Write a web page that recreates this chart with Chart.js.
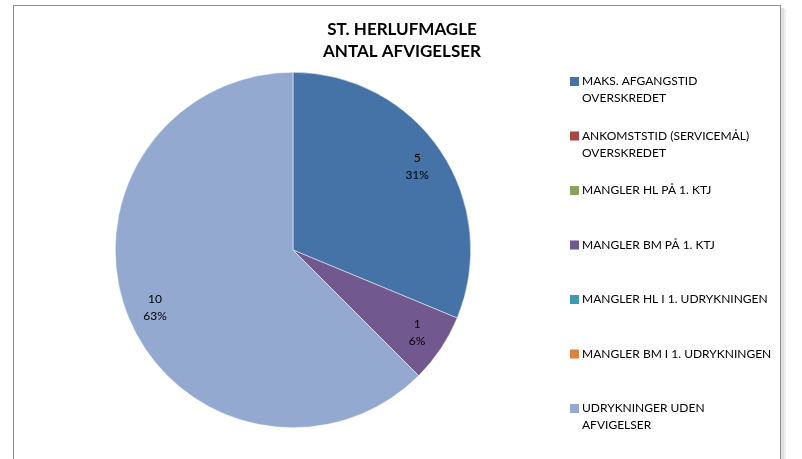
<!DOCTYPE html>
<html>
<head>
<meta charset="utf-8">
<script src="https://cdn.jsdelivr.net/npm/chart.js@4"></script>
<style>
html,body{margin:0;padding:0;background:#fff;}
#wrap{width:802px;height:459px;position:relative;}
</style>
</head>
<body>
<div id="wrap"><canvas id="c" width="802" height="459"></canvas></div>
<script>
const titleLines = ["ST. HERLUFMAGLE", "ANTAL AFVIGELSER"];
const categories = [
  ["MAKS. AFGANGSTID", "OVERSKREDET"],
  ["ANKOMSTSTID (SERVICEMÅL)", "OVERSKREDET"],
  ["MANGLER HL PÅ 1. KTJ"],
  ["MANGLER BM PÅ 1. KTJ"],
  ["MANGLER HL I 1. UDRYKNINGEN"],
  ["MANGLER BM I 1. UDRYKNINGEN"],
  ["UDRYKNINGER UDEN", "AFVIGELSER"]
];
const values = [5, 0, 0, 1, 0, 0, 10];
const colors = ["#4572A7", "#AA4643", "#89A54E", "#71588F", "#4198AF", "#DB843D", "#93A9CF"];

const FONT = "Lato, 'Open Sans', sans-serif";

const framePlugin = {
  id: 'frame',
  beforeDraw(chart) {
    const ctx = chart.ctx;
    ctx.save();
    ctx.fillStyle = '#fff';
    ctx.fillRect(0, 0, chart.width, chart.height);
    // shadow on right
    ctx.fillStyle = 'rgba(0,0,0,0.12)';
    ctx.fillRect(781, 8, 3, chart.height);
    ctx.fillStyle = 'rgba(0,0,0,0.06)';
    ctx.fillRect(784, 9, 2, chart.height);
    ctx.strokeStyle = '#8c8c8c';
    ctx.lineWidth = 1;
    ctx.strokeRect(13.5, 5.5, 767, chart.height + 10);
    ctx.restore();
  }
};

const titlePlugin = {
  id: 'customTitle',
  afterDraw(chart) {
    const ctx = chart.ctx;
    ctx.save();
    ctx.fillStyle = '#000';
    ctx.font = "bold 17px " + FONT;
    ctx.textAlign = 'center';
    ctx.textBaseline = 'middle';
    titleLines.forEach((t, i) => ctx.fillText(t, 402, 30 + i * 21.5));
    ctx.restore();
  }
};

const legendPlugin = {
  id: 'customLegend',
  afterDraw(chart) {
    const ctx = chart.ctx;
    const labels = chart.data.labels;
    const bg = chart.data.datasets[0].backgroundColor;
    ctx.save();
    ctx.font = "12px " + FONT;
    ctx.textBaseline = 'middle';
    ctx.textAlign = 'left';
    const x0 = 570, top = 81.5, step = 54.5, lh = 17;
    labels.forEach((lab, i) => {
      const lines = Array.isArray(lab) ? lab : [lab];
      const y = top + i * step - (lines.length - 1) * lh / 2 + (i === 0 || i === 1 || i === 6 ? (lines.length - 1) * lh / 2 : 0);
      ctx.fillStyle = bg[i];
      ctx.fillRect(x0, y - 4.5, 9, 9);
      ctx.fillStyle = '#000';
      lines.forEach((ln, j) => ctx.fillText(ln, x0 + 12, y + j * lh));
    });
    ctx.restore();
  }
};

const labelPlugin = {
  id: 'sliceLabels',
  afterDatasetsDraw(chart) {
    const ctx = chart.ctx;
    const meta = chart.getDatasetMeta(0);
    const data = chart.data.datasets[0].data;
    const total = data.reduce((a, b) => a + b, 0);
    ctx.save();
    ctx.font = "12px " + FONT;
    ctx.fillStyle = '#000';
    ctx.textAlign = 'center';
    ctx.textBaseline = 'middle';
    meta.data.forEach((arc, i) => {
      const v = data[i];
      if (!v) return;
      const p = arc.getProps(['x', 'y', 'startAngle', 'endAngle', 'outerRadius'], true);
      const mid = (p.startAngle + p.endAngle) / 2;
      const r = p.outerRadius * 0.84;
      const cx = p.x + Math.cos(mid) * r;
      const cy = p.y + Math.sin(mid) * r;
      const pct = Math.round(v / total * 100) + '%';
      ctx.fillText(String(v), cx, cy - 8.5);
      ctx.fillText(pct, cx, cy + 8.5);
    });
    ctx.restore();
  }
};

new Chart(document.getElementById('c'), {
  type: 'pie',
  data: {
    labels: categories,
    datasets: [{
      data: values,
      backgroundColor: colors,
      borderColor: '#ffffff',
      borderWidth: 0.5
    }]
  },
  options: {
    responsive: false,
    animation: false,
    layout: { padding: { left: 115, right: 331, top: 72, bottom: 31 } },
    plugins: {
      legend: { display: false },
      title: { display: false },
      tooltip: { enabled: false }
    }
  },
  plugins: [framePlugin, titlePlugin, legendPlugin, labelPlugin]
});
</script>
</body>
</html>
